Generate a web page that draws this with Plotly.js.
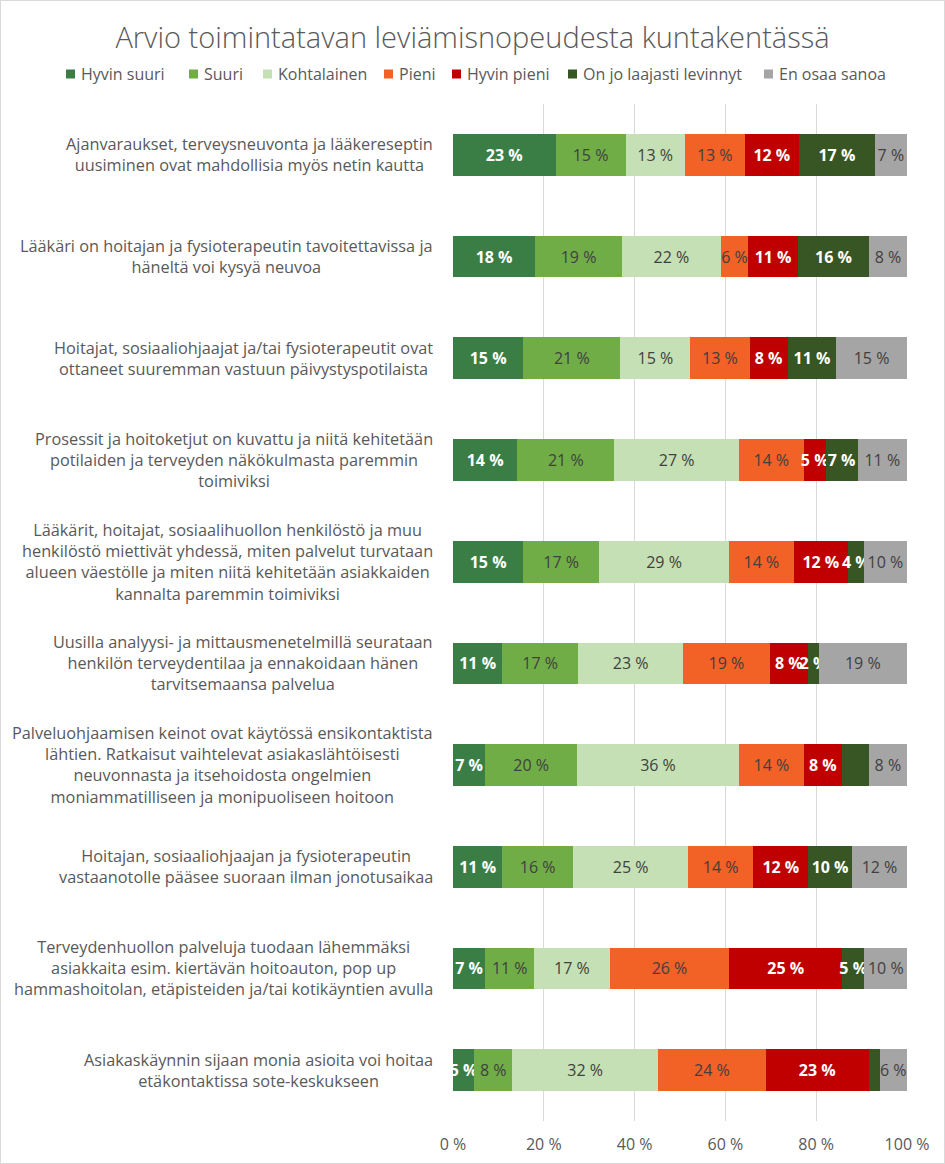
<!DOCTYPE html>
<html>
<head>
<meta charset="utf-8">
<script src="https://cdn.plot.ly/plotly-3.0.1.min.js"></script>
<style>
  html, body { margin: 0; padding: 0; background: #fff; }
  #chart { width: 943px; height: 1162px; border: 1px solid #D9D9D9; }
</style>
</head>
<body>
<div id="chart"></div>
<script>
const categories = [
  "Ajanvaraukset, terveysneuvonta ja lääkereseptin<br>uusiminen ovat mahdollisia myös netin kautta",
  "Lääkäri on hoitajan ja fysioterapeutin tavoitettavissa ja<br>häneltä voi kysyä neuvoa",
  "Hoitajat, sosiaaliohjaajat ja/tai fysioterapeutit ovat<br>ottaneet suuremman vastuun päivystyspotilaista",
  "Prosessit ja hoitoketjut on kuvattu ja niitä kehitetään<br>potilaiden ja terveyden näkökulmasta paremmin<br>toimiviksi",
  "Lääkärit, hoitajat, sosiaalihuollon henkilöstö ja muu<br>henkilöstö miettivät yhdessä, miten palvelut turvataan<br>alueen väestölle ja miten niitä kehitetään asiakkaiden<br>kannalta paremmin toimiviksi",
  "Uusilla analyysi- ja mittausmenetelmillä seurataan<br>henkilön terveydentilaa ja ennakoidaan hänen<br>tarvitsemaansa palvelua",
  "Palveluohjaamisen keinot ovat käytössä ensikontaktista<br>lähtien. Ratkaisut vaihtelevat asiakaslähtöisesti<br>neuvonnasta ja itsehoidosta ongelmien<br>moniammatilliseen ja monipuoliseen hoitoon",
  "Hoitajan, sosiaaliohjaajan ja fysioterapeutin<br>vastaanotolle pääsee suoraan ilman jonotusaikaa",
  "Terveydenhuollon palveluja tuodaan lähemmäksi<br>asiakkaita esim. kiertävän hoitoauton, pop up<br>hammashoitolan, etäpisteiden ja/tai kotikäyntien avulla",
  "Asiakaskäynnin sijaan monia asioita voi hoitaa<br>etäkontaktissa sote-keskukseen"
];

const seriesNames = ["Hyvin suuri", "Suuri", "Kohtalainen", "Pieni", "Hyvin pieni", "On jo laajasti levinnyt", "En osaa sanoa"];

const hyvinSuuri   = [22.6, 18.1, 15.47, 14.15, 15.47, 10.85, 7.11, 10.85, 7.11, 4.69];
const suuri        = [15.4, 19.1, 21.4, 21.4, 16.72, 16.72, 20.23, 15.62, 10.78, 8.36];
const kohtalainen  = [13.05, 21.8, 15.4, 27.4, 28.59, 23.09, 35.63, 25.29, 16.6, 32.11];
const pieni        = [13.2, 6.0, 13.05, 14.3, 14.3, 19.13, 14.3, 14.4, 26.39, 23.75];
const hyvinPieni   = [11.95, 11.0, 8.36, 4.84, 11.88, 8.4, 8.36, 12.1, 24.85, 22.65];
const onJoLaajasti = [16.7, 15.6, 10.78, 7.04, 3.52, 2.42, 5.94, 9.6, 4.84, 2.42];
const enOsaaSanoa  = [7.1, 8.4, 15.47, 10.85, 9.53, 19.3, 8.43, 12.17, 9.53, 6.01];

const xTickValues = [0, 20, 40, 60, 80, 100];

// data labels not shown in the original: [series index, category index]
const hiddenLabels = [[5, 6], [5, 9]];

const seriesValues = [hyvinSuuri, suuri, kohtalainen, pieni, hyvinPieni, onJoLaajasti, enOsaaSanoa];
const colors = ["#3A7E45", "#70AD47", "#C5E0B4", "#F26125", "#C00000", "#375623", "#A5A5A5"];
const lightText = [true, false, false, false, true, true, false];

const FONT = "'Open Sans', Lato, sans-serif";

// layout geometry (pixels inside the chart div)
const W = 943, H = 1162;
const M = { l: 452, r: 37, t: 103, b: 42 };
const PW = W - M.l - M.r, PH = H - M.t - M.b;
const px2x = px => (px - M.l) / PW;
const px2y = py => (H - M.b - py) / PH;

const traces = seriesValues.map((vals, s) => ({
  type: "bar",
  orientation: "h",
  name: seriesNames[s],
  y: categories,
  x: vals,
  marker: { color: colors[s], line: { width: 0 } },
  text: vals.map((v, i) => hiddenLabels.some(h => h[0] === s && h[1] === i) ? "" : Math.round(v) + " %"),
  textposition: "inside",
  insidetextanchor: "middle",
  textangle: 0,
  constraintext: "none",
  cliponaxis: true,
  textfont: {
    family: FONT,
    size: 16,
    color: lightText[s] ? "#FFFFFF" : "#404040",
    weight: lightText[s] ? 700 : 400
  },
  hoverinfo: "name+x",
  showlegend: false
}));

// category labels: right-aligned block, centred lines
const annotations = categories.map(c => ({
  xref: "paper", yref: "y",
  x: px2x(434), y: c,
  xanchor: "right", yanchor: "middle",
  align: "center",
  text: c,
  showarrow: false,
  font: { family: FONT, size: 16.3, color: "#595959" }
}));

// legend drawn as squares + labels
const legendSquareX = [65, 188, 262, 383, 451, 567, 763];
const legendY = 73;
const shapes = [];
seriesNames.forEach((n, s) => {
  const x0 = legendSquareX[s];
  shapes.push({
    type: "rect", xref: "paper", yref: "paper",
    x0: px2x(x0), x1: px2x(x0 + 9),
    y0: px2y(legendY + 4.5), y1: px2y(legendY - 4.5),
    fillcolor: colors[s], line: { width: 0 }
  });
  annotations.push({
    xref: "paper", yref: "paper",
    x: px2x(x0 + 13), y: px2y(legendY),
    xanchor: "left", yanchor: "middle",
    text: n, showarrow: false,
    font: { family: FONT, size: 16, color: "#595959" }
  });
});

const layout = {
  width: W, height: H,
  margin: { l: M.l, r: M.r, t: M.t, b: M.b, pad: 0 },
  paper_bgcolor: "#FFFFFF",
  plot_bgcolor: "#FFFFFF",
  barmode: "stack",
  bargap: 0.59,
  font: { family: FONT, color: "#595959" },
  uniformtext: { minsize: 16, mode: "show" },
  showlegend: false,
  title: {
    text: "Arvio toimintatavan leviämisnopeudesta kuntakentässä",
    font: { family: FONT, size: 29, color: "#595959", weight: 300 },
    x: 0.5, xref: "container", xanchor: "center",
    yref: "container", y: 1 - 37 / H, yanchor: "middle"
  },
  xaxis: {
    range: [0, 100],
    tickvals: xTickValues,
    ticktext: xTickValues.map(v => v + " %"),
    showgrid: true,
    gridcolor: "#D9D9D9",
    gridwidth: 1,
    zeroline: false,
    showline: false,
    ticks: "",
    ticklabelstandoff: 12,
    tickfont: { family: FONT, size: 16, color: "#595959" },
    fixedrange: true
  },
  yaxis: {
    autorange: "reversed",
    showticklabels: false,
    showgrid: false,
    zeroline: false,
    showline: false,
    ticks: "",
    fixedrange: true
  },
  annotations: annotations,
  shapes: shapes
};

Plotly.newPlot("chart", traces, layout, { displayModeBar: false, staticPlot: true });
</script>
</body>
</html>
